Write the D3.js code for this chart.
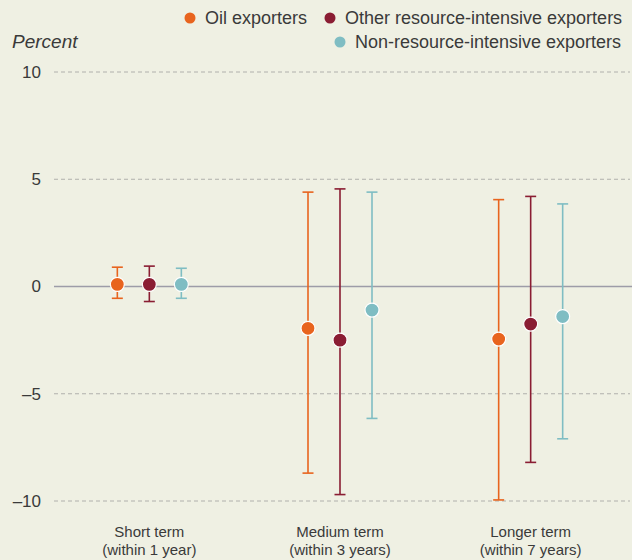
<!DOCTYPE html>
<html>
<head>
<meta charset="utf-8">
<script src="https://cdnjs.cloudflare.com/ajax/libs/d3/7.8.5/d3.min.js"></script>
<style>
  body { margin: 0; background: #eff0e3; }
  svg text { font-family: "Liberation Sans Narrow", "Arial Narrow", "Liberation Sans", sans-serif; fill: #3a3a3a; }
</style>
</head>
<body>
<div id="chart"></div>
<script>
// categories and series
var categories = ["Short term|(within 1 year)", "Medium term|(within 3 years)", "Longer term|(within 7 years)"];
var seriesNames = ["Oil exporters", "Other resource-intensive exporters", "Non-resource-intensive exporters"];
var colors = ["#e8641e", "#8a1d33", "#7fbdc3"];
// point estimates per series, one per category
var oilMid = [0.1, -1.95, -2.45];
var oilLow = [-0.55, -8.7, -9.95];
var oilHigh = [0.9, 4.4, 4.05];
var otherMid = [0.1, -2.5, -1.75];
var otherLow = [-0.7, -9.7, -8.2];
var otherHigh = [0.95, 4.55, 4.2];
var nonMid = [0.1, -1.1, -1.4];
var nonLow = [-0.55, -6.15, -7.1];
var nonHigh = [0.85, 4.4, 3.85];
var yTicks = [-10, -5, 0, 5, 10];

var width = 632, height = 560;
var svg = d3.select("#chart").append("svg")
    .attr("width", width)
    .attr("height", height);

var mids = [oilMid, otherMid, nonMid],
    lows = [oilLow, otherLow, nonLow],
    highs = [oilHigh, otherHigh, nonHigh];

var data = [];
categories.forEach(function(c, i) {
  seriesNames.forEach(function(s, j) {
    data.push({cat: c, series: s, idx: j, mid: mids[j][i], low: lows[j][i], high: highs[j][i]});
  });
});

//x scale for the 3 groups
var x = d3.scaleBand()
    .domain(categories)
    .range([54, 626])
    .padding(0);
var xs = d3.scalePoint()
    .domain(seriesNames)
    .range([-32, 32]);

var y = d3.scaleLinear()
    .domain([-10, 10])
    .range([501, 72]);

// gridlines
svg.append("g")
  .selectAll("line")
  .data(yTicks.filter(function(d) { return d != 0; }))
  .enter().append("line")
    .attr("x1", 54).attr("x2", 630)
    .attr("y1", function(d) { return y(d); })
    .attr("y2", function(d) { return y(d); })
    .attr("stroke", "#b0b0ac")
    .attr("stroke-width", 1)
    .attr("stroke-dasharray", "4,3");

svg.append("line")
    .attr("x1", 54).attr("x2", 632)
    .attr("y1", y(0)).attr("y2", y(0))
    .attr("stroke", "#9d9ca8")
    .attr("stroke-width", 1.3);

// y axis labels
svg.append("g")
  .selectAll("text")
  .data(yTicks)
  .enter().append("text")
    .attr("x", 41)
    .attr("y", function(d) { return y(d); })
    .attr("dy", "0.35em")
    .attr("text-anchor", "end")
    .style("font-size", "17px")
    .text(function(d) { return d < 0 ? "\u2013" + Math.abs(d) : d; });

svg.append("text")
    .attr("x", 12).attr("y", 48)
    .style("font-size", "19px")
    .style("font-style", "italic")
    .text("Percent");

// x category labels
var xl = svg.append("g")
  .selectAll("text")
  .data(categories)
  .enter().append("text")
    .attr("text-anchor", "middle")
    .style("font-size", "15px");
xl.append("tspan")
    .attr("x", function(d) { return x(d) + x.bandwidth() / 2; })
    .attr("y", 537)
    .text(function(d) { return d.split("|")[0]; });
xl.append("tspan")
    .attr("x", function(d) { return x(d) + x.bandwidth() / 2; })
    .attr("y", 555)
    .text(function(d) { return d.split("|")[1]; });

// error bars
var g = svg.append("g")
  .selectAll("g")
  .data(data)
  .enter().append("g")
    .attr("transform", function(d) { return "translate(" + (x(d.cat) + x.bandwidth() / 2 + xs(d.series)) + ",0)"; })
    .attr("stroke", function(d) { return colors[d.idx]; });

g.append("line")
    .attr("y1", function(d) { return y(d.low); })
    .attr("y2", function(d) { return y(d.high); })
    .attr("stroke-width", 1.6);
g.append("line")
    .attr("x1", -5.5).attr("x2", 5.5)
    .attr("y1", function(d) { return y(d.low); })
    .attr("y2", function(d) { return y(d.low); })
    .attr("stroke-width", 1.6);
g.append("line")
    .attr("x1", -5.5).attr("x2", 5.5)
    .attr("y1", function(d) { return y(d.high); })
    .attr("y2", function(d) { return y(d.high); })
    .attr("stroke-width", 1.6);
g.append("circle")
    .attr("cy", function(d) { return y(d.mid); })
    .attr("r", 7)
    .attr("fill", function(d) { return colors[d.idx]; })
    .attr("stroke", "#ffffff")
    .attr("stroke-width", 1.2);

// legend
var legendPos = [[190, 18], [330, 18], [340, 42]];
var lg = svg.append("g")
  .selectAll("g")
  .data(seriesNames)
  .enter().append("g")
    .attr("transform", function(d, i) { return "translate(" + legendPos[i][0] + "," + legendPos[i][1] + ")"; });
lg.append("circle")
    .attr("r", 5.5)
    .attr("fill", function(d, i) { return colors[i]; });
lg.append("text")
    .attr("x", 15)
    .attr("dy", "0.35em")
    .style("font-size", "18px")
    .text(function(d) { return d; });
</script>
</body>
</html>
